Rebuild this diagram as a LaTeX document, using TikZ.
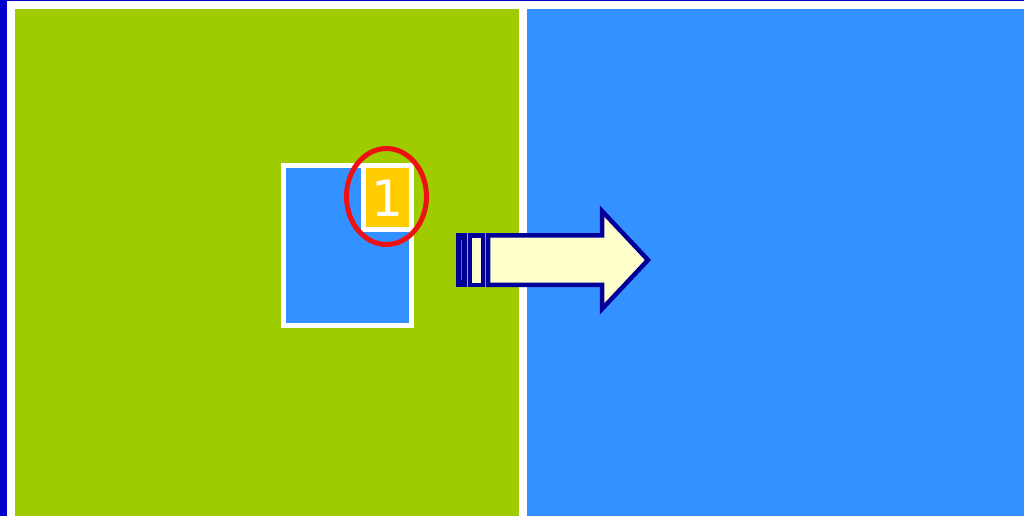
\documentclass[tikz,border=0pt]{standalone}
\usepackage{fontspec}
\setmainfont{DejaVu Sans}
\definecolor{barblue}{HTML}{0000CC}
\definecolor{leafgreen}{HTML}{9FCC00}
\definecolor{skyblue}{HTML}{3392FF}
\definecolor{navy}{HTML}{000099}
\definecolor{gold}{HTML}{FFCC00}
\definecolor{cream}{HTML}{FFFFCC}
\definecolor{redring}{HTML}{EE1111}
\definecolor{paleline}{HTML}{6666CC}
\tikzset{
  panel/.style={fill=#1, draw=none},
  whitebox/.style={fill=#1, draw=white, line width=5pt},
  arrowpart/.style={fill=#1, draw=navy, line width=4.5pt, line join=miter},
}
\begin{document}
\begin{tikzpicture}[x=1pt,y=-1pt]
\useasboundingbox[fill=white] (0,0) rectangle (1024,516);
% frame bits
\fill[barblue] (0,0) rectangle (1024,1.5);
\fill[barblue] (0,0) rectangle (7,516);
% panels
\fill[panel=leafgreen] (15,9) rectangle (519,516);
\fill[panel=skyblue] (527,9) rectangle (1024,516);
% small page
\draw[whitebox=skyblue] (283,165) rectangle (411,325);
\draw[whitebox=gold] (363,165) rectangle (411,229);
\node[text=white, font=\fontsize{50}{50}\selectfont, inner sep=0pt] (num) at (387.5,198.5) {1};
% red ring
\draw[redring, line width=5pt] (386.5,196.5) ellipse [x radius=40, y radius=48];
% arrow tail
\draw[arrowpart=navy] (458,235.25) rectangle (465,284.75);
\draw[paleline, line width=1pt] (461.5,240) -- (461.5,280);
\draw[arrowpart=cream] (470,235.25) rectangle (483,284.75);
% arrow
\draw[arrowpart=cream] (488,235.25) -- (602,235.25) -- (602,211) -- (648,260)
  -- (602,309) -- (602,284.75) -- (488,284.75) -- cycle;
\end{tikzpicture}
\end{document}
